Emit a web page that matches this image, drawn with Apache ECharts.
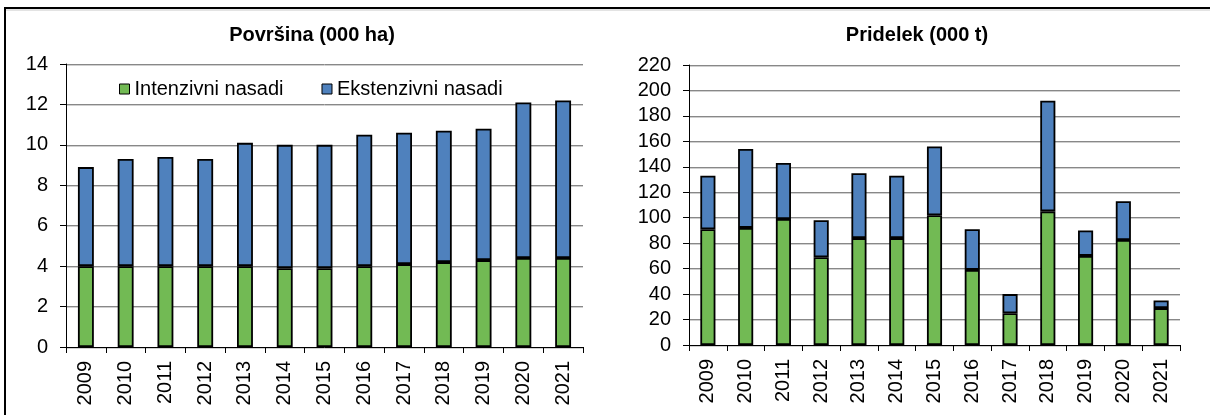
<!DOCTYPE html>
<html>
<head>
<meta charset="utf-8">
<script src="https://cdn.jsdelivr.net/npm/echarts@6/dist/echarts.min.js"></script>
<style>
  html, body { margin: 0; padding: 0; background: #fff; }
  #chart { width: 1210px; height: 415px; }
</style>
</head>
<body>
<div id="chart"></div>
<script>
// podatki
const years = ["2009", "2010", "2011", "2012", "2013", "2014", "2015", "2016", "2017", "2018", "2019", "2020", "2021"];
// Površina (000 ha)
const areaIntensive = [4.0, 4.0, 4.0, 4.0, 4.0, 3.9, 3.9, 4.0, 4.1, 4.2, 4.3, 4.4, 4.4];
const areaExtensive = [4.9, 5.3, 5.4, 5.3, 6.1, 6.1, 6.1, 6.5, 6.5, 6.5, 6.5, 7.7, 7.8];
// Pridelek (000 t)
const yieldIntensive = [91, 92, 99, 69, 84, 84, 102, 59, 25, 105, 70, 82.5, 29];
const yieldExtensive = [42, 62, 44, 29, 51, 49, 54, 32, 15, 87, 20, 30.5, 6];

const names = ["Intenzivni nasadi", "Ekstenzivni nasadi"];
const colors = ["#72BA54", "#4F81BD"];
const font = "'Liberation Sans', Arial, sans-serif";

const chart = echarts.init(document.getElementById("chart"), null, { renderer: "canvas" });

const gridLine = {
  show: true,
  lineStyle: { color: "#888", width: 1, shadowColor: "#d0d0d0", shadowOffsetY: 1 },
};

const xAxisBase = (gridIndex) => ({
  type: "category",
  gridIndex,
  data: years,
  axisLine: { show: true, lineStyle: { color: "#000", width: 1 } },
  axisTick: { show: true, length: 6, lineStyle: { color: "#000" } },
  axisLabel: { rotate: 90, margin: 14, color: "#000", fontSize: 20, fontFamily: font },
});

const yAxisBase = (gridIndex, max, interval) => ({
  type: "value",
  gridIndex,
  min: 0,
  max,
  interval,
  axisLine: { show: true, lineStyle: { color: "#000", width: 1 } },
  axisTick: { show: true, length: 6, lineStyle: { color: "#000" } },
  axisLabel: { margin: 18, color: "#000", fontSize: 20, fontFamily: font },
  splitLine: gridLine,
});

const barItem = (i) => ({ color: colors[i], borderColor: "#000", borderWidth: 1.8 });

const option = {
  animation: false,
  backgroundColor: "#fff",
  textStyle: { fontFamily: font },
  title: [
    {
      text: "Površina (000 ha)",
      left: 307, top: 20, textAlign: "center",
      textStyle: { fontSize: 20, fontWeight: "bold", color: "#000", fontFamily: font },
    },
    {
      text: "Pridelek (000 t)",
      left: 912, top: 20, textAlign: "center",
      textStyle: { fontSize: 20, fontWeight: "bold", color: "#000", fontFamily: font },
    }
  ],
  legend: {
    data: names,
    left: 114,
    top: 74,
    itemWidth: 10,
    itemHeight: 10,
    itemGap: 38,
    icon: "rect",
    itemStyle: { borderColor: "#000", borderWidth: 1 },
    textStyle: { fontSize: 20, color: "#000", fontFamily: font },
  },
  grid: [
    { left: 66, top: 64, width: 517, height: 283 },
    { left: 689, top: 65, width: 491, height: 280 }
  ],
  xAxis: [xAxisBase(0), xAxisBase(1)],
  yAxis: [yAxisBase(0, 14, 2), yAxisBase(1, 220, 20)],
  series: [
    { name: names[0], type: "bar", stack: "area", xAxisIndex: 0, yAxisIndex: 0, barWidth: "40%", data: areaIntensive, itemStyle: barItem(0) },
    { name: names[1], type: "bar", stack: "area", xAxisIndex: 0, yAxisIndex: 0, barWidth: "40%", data: areaExtensive, itemStyle: barItem(1) },
    { name: names[0], type: "bar", stack: "yield", xAxisIndex: 1, yAxisIndex: 1, barWidth: "40%", data: yieldIntensive, itemStyle: barItem(0) },
    { name: names[1], type: "bar", stack: "yield", xAxisIndex: 1, yAxisIndex: 1, barWidth: "40%", data: yieldExtensive, itemStyle: barItem(1) }
  ],
  graphic: [
    // okvir
    { type: "line", shape: { x1: 5, y1: 8, x2: 1210, y2: 8 }, style: { stroke: "#000", lineWidth: 2 } },
    { type: "line", shape: { x1: 6, y1: 10, x2: 1210, y2: 10 }, style: { stroke: "#c8c8c8", lineWidth: 1 } },
    { type: "line", shape: { x1: 5, y1: 7, x2: 5, y2: 415 }, style: { stroke: "#000", lineWidth: 2 } }
  ],
};

chart.setOption(option);
</script>
</body>
</html>
